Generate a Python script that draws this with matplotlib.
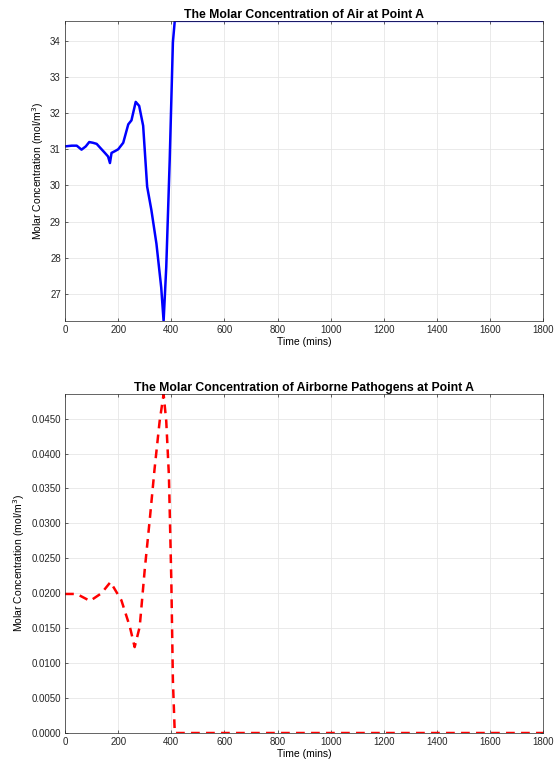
import matplotlib
matplotlib.use("Agg")
import matplotlib.pyplot as plt
from matplotlib.ticker import FormatStrFormatter

plt.rcParams['font.family'] = ['Liberation Sans', 'DejaVu Sans']

# Molar concentration of air at point A
t_air = [0, 25, 44, 62, 78, 91, 105, 119, 135, 150, 162, 169, 175, 188, 200, 219, 238, 250, 266,
         279, 294, 309, 325, 344, 362, 371, 381, 394, 406, 413, 1800]
c_air = [31.08, 31.1, 31.1, 30.99, 31.08, 31.2, 31.18, 31.15, 31.02, 30.9, 30.8, 30.62, 30.9,
         30.95, 31.0, 31.18, 31.69, 31.8, 32.31, 32.2, 31.65, 29.97, 29.32, 28.39, 27.18, 26.25,
         27.75, 30.71, 33.96, 34.55, 34.55]

# Molar concentration of airborne pathogens at point A
t_path = [0, 44, 94, 137, 171, 212, 244, 262, 281, 300, 319, 337, 356, 371, 381, 391, 400, 406,
          413, 1800]
c_path = [0.0199, 0.0199, 0.0189, 0.0200, 0.0216, 0.0190, 0.0152, 0.0123, 0.0152, 0.0234,
          0.0306, 0.0378, 0.0446, 0.0485, 0.0446, 0.0368, 0.0219, 0.0075, 0.0, 0.0]

xticks = list(range(0, 1801, 200))

fig = plt.figure(figsize=(5.56, 7.72), dpi=100)

def style(ax):
    ax.grid(True, color='#e6e6e6', linewidth=0.6)
    ax.set_axisbelow(True)
    ax.tick_params(direction='in', labelsize=7, length=2.5, width=0.5, colors='#262626',
                   top=True, right=True, pad=3)
    for s in ax.spines.values():
        s.set_color('#262626')
        s.set_linewidth(0.5)
    ax.set_xlim(0, 1800)
    ax.set_xticks(xticks)
    ax.set_xlabel('Time (mins)', fontsize=7.5, labelpad=1)
    ax.set_ylabel('Molar Concentration (mol/m$^3$)', fontsize=7.5, labelpad=3)

# top panel
ax1 = fig.add_axes([0.117, 0.584, 0.860, 0.389])
ax1.plot(t_air, c_air, color='#0000ff', linewidth=1.8)
style(ax1)
ax1.set_ylim(min(c_air), max(c_air))
ax1.set_yticks(range(27, 35))
ax1.set_title('The Molar Concentration of Air at Point A', fontsize=8.8, fontweight='bold', pad=2)

# bottom panel
ax2 = fig.add_axes([0.117, 0.0505, 0.860, 0.439])
ax2.plot(t_path, c_path, color='#ff0000', linewidth=1.8, linestyle=(0, (3.5, 2.5)))
style(ax2)
ax2.set_ylim(min(c_path), max(c_path))
ax2.set_yticks([i * 0.005 for i in range(10)])
ax2.yaxis.set_major_formatter(FormatStrFormatter('%.4f'))
ax2.set_title('The Molar Concentration of Airborne Pathogens at Point A', fontsize=8.8,
              fontweight='bold', pad=2)

fig.savefig('out.png', dpi=100)
